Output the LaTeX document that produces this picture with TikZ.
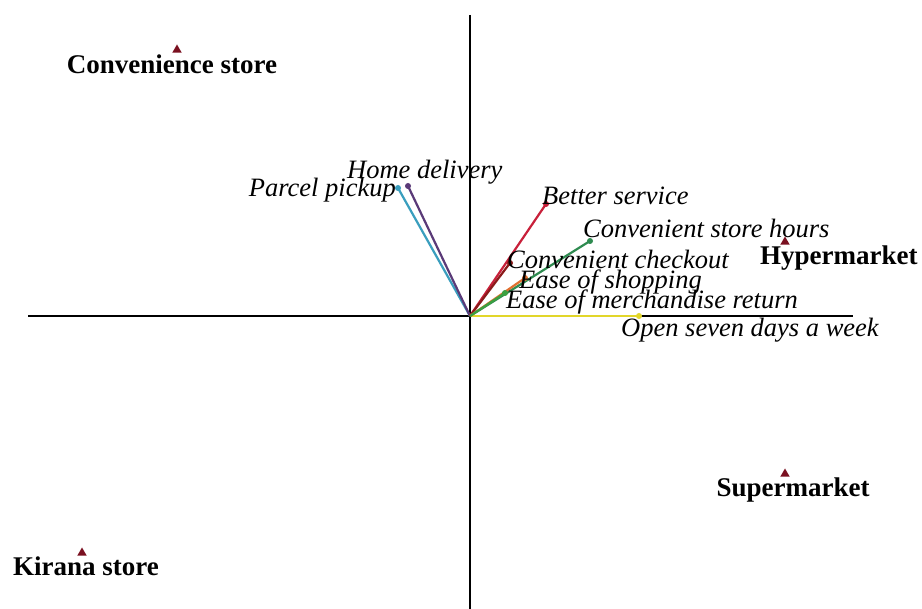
\documentclass[tikz,border=0pt]{standalone}
\usepackage{fontspec}
\setmainfont{Liberation Serif}
\usetikzlibrary{shapes.geometric}
\definecolor{ptred}{HTML}{7A1020}
\definecolor{cteal}{HTML}{3A9EBE}
\definecolor{cpurple}{HTML}{5A3A78}
\definecolor{cred}{HTML}{C8203A}
\definecolor{cgreen}{HTML}{2E8B50}
\definecolor{cdred}{HTML}{8B1A1A}
\definecolor{corange}{HTML}{E07030}
\definecolor{clgreen}{HTML}{3AA040}
\definecolor{cyellow}{HTML}{E2D62A}
\begin{document}
\begin{tikzpicture}[x=1pt,y=-1pt,
  axis/.style={line width=2.4pt,black},
  vec/.style={line width=2.2pt},
  tip/.style={circle,fill,inner sep=0pt,minimum size=6pt},
  store/.style={regular polygon,regular polygon sides=3,fill=ptred,inner sep=0pt,minimum size=11pt},
  vlabel/.style={font=\fontsize{26.5}{30}\selectfont\itshape,inner sep=0pt},
  slabel/.style={font=\fontsize{27}{30}\selectfont\bfseries,inner sep=0pt}]
\useasboundingbox (0,0) rectangle (922,609);
\fill[white] (0,0) rectangle (922,609);

% axes
\coordinate (O) at (470,316);
\coordinate (ytop) at (470,15);
\coordinate (ybot) at (470,609);
\coordinate (xl) at (28,316);
\coordinate (xr) at (853,316);
\draw[axis] (ytop) -- (ybot);
\draw[axis] (xl) -- (xr);

% attribute vectors
\coordinate (pp) at (398,188);
\coordinate (hd) at (408,186);
\coordinate (bs) at (546,204);
\coordinate (csh) at (590,241);
\coordinate (cc) at (510,263);
\coordinate (es) at (525,278);
\coordinate (em) at (505,293);
\coordinate (ow) at (639,316);

\draw[vec,cyellow] (O) -- (ow) node[tip,cyellow]{};
\draw[vec,cteal] (O) -- (pp) node[tip,cteal]{};
\draw[vec,cpurple] (O) -- (hd) node[tip,cpurple]{};
\draw[vec,cred] (O) -- (bs) node[tip,cred]{};
\draw[vec,cgreen] (O) -- (csh) node[tip,cgreen]{};
\draw[vec,cdred] (O) -- (cc) node[tip,cdred]{};
\draw[vec,corange] (O) -- (es) node[tip,corange]{};
\draw[vec,clgreen] (O) -- (em) node[tip,clgreen]{};

\node[vlabel,anchor=east] (lpp) at (396,190) {Parcel pickup};
\node[vlabel,anchor=west] (lhd) at (347,172) {Home delivery};
\node[vlabel,anchor=west] (lbs) at (542,196) {Better service};
\node[vlabel,anchor=west] (lcsh) at (583,228) {Convenient store hours};
\node[vlabel,anchor=west] (lcc) at (507,259) {Convenient checkout};
\node[vlabel,anchor=west] (les) at (519,282) {Ease of shopping};
\node[vlabel,anchor=west] (lem) at (506,302) {Ease of merchandise return};
\node[vlabel,anchor=west] (low) at (621,330) {Open seven days a week};

% store formats
\node[store] (cs) at (177,50) {};
\node[slabel] (lcs) at (172,64) {Convenience store};
\node[store] (hm) at (785,242) {};
\node[slabel,anchor=west] (lhm) at (760,258) {Hypermarket};
\node[store] (sm) at (785,474) {};
\node[slabel] (lsm) at (793,490) {Supermarket};
\node[store] (ks) at (82,553) {};
\node[slabel,anchor=west] (lks) at (13,566) {Kirana store};
\end{tikzpicture}
\end{document}
